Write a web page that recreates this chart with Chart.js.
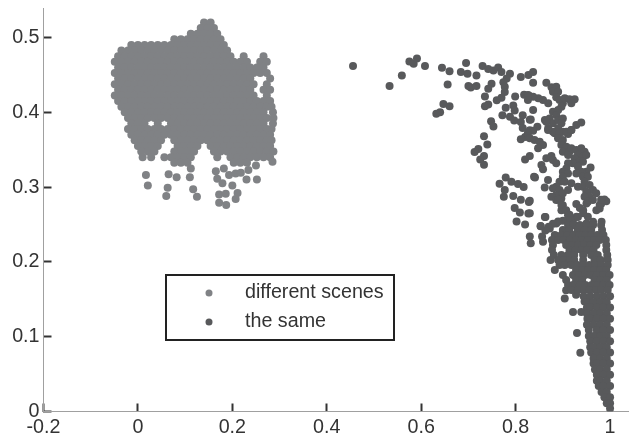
<!DOCTYPE html>
<html>
<head>
<meta charset="utf-8">
<script src="https://cdn.jsdelivr.net/npm/chart.js@4/dist/chart.umd.js"></script>
<style>html,body{margin:0;padding:0;background:#fff}canvas{display:block}</style>
</head>
<body>
<canvas id="c" width="632" height="436"></canvas>
<script>
const seriesNames = ['different scenes', 'the same'];
const xTicks = [-0.2, 0, 0.2, 0.4, 0.6, 0.8, 1];
const yTicks = [0, 0.1, 0.2, 0.3, 0.4, 0.5];

// "different scenes": rows of the solid cloud, y then x values
const diffRowY = [.52,.5125,.505,.4975,.49,.4825,.475,.4675,.46,.4525,.445,.4375,.43,.4225,.415,.4075,.40,.3925,.385,.3775,.37,.3625,.355,.3475,.34,.3325];
const diffRowX = [
[.14,.154],
[.133,.147,.161],
[.112,.126,.14,.154,.168],
[.077,.091,.105,.119,.133,.147,.161,.175],
[-.014,0,.014,.028,.042,.056,.07,.084,.098,.112,.126,.14,.154,.168,.182],
[-.035,-.021,-.007,.007,.021,.035,.049,.063,.077,.091,.105,.119,.133,.147,.161,.175,.189],
[-.042,-.028,-.014,0,.014,.028,.042,.056,.07,.084,.098,.112,.126,.14,.154,.168,.182,.196,.224,.266],
[-.049,-.035,-.021,-.007,.007,.021,.035,.049,.063,.077,.091,.105,.119,.133,.147,.161,.175,.189,.203,.217,.231,.259,.273],
[-.042,-.028,-.014,0,.014,.028,.042,.056,.07,.084,.098,.112,.126,.14,.154,.168,.182,.196,.21,.224,.238,.252,.266],
[-.049,-.035,-.021,-.007,.007,.021,.035,.049,.063,.077,.091,.105,.119,.133,.147,.161,.175,.189,.203,.217,.231,.245,.259,.273],
[-.042,-.028,-.014,0,.014,.028,.042,.056,.07,.084,.098,.112,.126,.14,.154,.168,.182,.196,.21,.224,.238,.28],
[-.049,-.035,-.021,-.007,.007,.021,.035,.049,.063,.077,.091,.105,.119,.133,.147,.161,.175,.189,.203,.217,.231,.245,.273],
[-.042,-.028,-.014,0,.014,.028,.042,.056,.07,.084,.098,.112,.126,.14,.154,.168,.182,.196,.21,.224,.238,.266,.28],
[-.049,-.035,-.021,-.007,.007,.021,.035,.049,.063,.077,.091,.105,.119,.133,.147,.161,.175,.189,.203,.217,.231,.245,.273],
[-.042,-.028,-.014,0,.014,.028,.042,.056,.07,.084,.098,.112,.126,.14,.154,.168,.182,.196,.21,.224,.238,.252,.266,.28],
[-.035,-.021,-.007,.007,.021,.035,.049,.063,.077,.091,.105,.119,.133,.147,.161,.175,.189,.203,.217,.231,.245,.259,.273,.283],
[-.028,-.014,0,.014,.028,.042,.056,.07,.084,.098,.112,.126,.14,.154,.168,.182,.196,.21,.224,.238,.252,.266,.286],
[-.021,-.007,.007,.021,.035,.049,.063,.077,.091,.105,.119,.133,.147,.161,.175,.189,.203,.217,.231,.245,.259,.273,.287],
[-.014,0,.014,.042,.07,.084,.098,.112,.126,.14,.154,.168,.182,.196,.21,.224,.238,.252,.266,.286],
[-.021,-.007,.007,.021,.035,.049,.063,.077,.091,.105,.119,.133,.147,.161,.175,.189,.203,.217,.231,.245,.259,.273,.283],
[-.014,0,.014,.028,.042,.056,.07,.084,.098,.112,.126,.14,.154,.168,.182,.196,.21,.224,.238,.252,.266,.28],
[-.007,.007,.021,.035,.049,.077,.091,.105,.119,.133,.147,.161,.175,.189,.203,.217,.231,.245,.259,.273,.283],
[0,.014,.028,.042,.084,.098,.112,.126,.154,.168,.182,.196,.21,.224,.238,.252,.266,.28],
[.007,.021,.035,.077,.091,.105,.119,.161,.175,.189,.203,.217,.231,.245,.259,.273,.287],
[.01,.028,.056,.07,.084,.098,.112,.168,.196,.21,.224,.238,.252,.266,.28],
[.077,.091,.105,.203,.217,.231]
];
// "different scenes": loose points under the cloud
const diffLoose = [[.017,.316],[.021,.302],[.063,.299],[.06,.288],[.065,.317],[.082,.313],[.11,.313],[.117,.297],[.125,.287],[.112,.325],[.165,.321],[.168,.311],[.179,.305],[.182,.325],[.193,.316],[.207,.318],[.218,.319],[.2,.302],[.211,.292],[.207,.284],[.172,.29],[.186,.291],[.172,.279],[.187,.276],[.23,.31],[.252,.31],[.285,.334],[.25,.329],[.234,.323]];

// "the same": scattered upper arc
const sameLoose = [[.4556,.4617],[.533,.435],[.559,.449],[.575,.468],[.584,.465],[.591,.472],[.608,.462],[.644,.4595],[.66,.455],[.695,.466],[.684,.454],[.698,.4515],[.717,.449],[.656,.437],[.7,.435],[.705,.433],[.717,.435],[.647,.411],[.66,.408],[.64,.4],[.632,.398],[.73,.462],[.742,.458],[.753,.456],[.763,.46],[.77,.4537],[.788,.4515],[.781,.445],[.774,.44],[.777,.434],[.777,.427],[.811,.447],[.827,.45],[.837,.454],[.837,.4395],[.865,.4395],[.749,.438],[.742,.4315],[.735,.421],[.77,.4195],[.76,.416],[.742,.4105],[.735,.408],[.799,.421],[.818,.4235],[.828,.4225],[.779,.406],[.795,.409],[.798,.4025],[.772,.396],[.788,.394],[.797,.389],[.815,.396],[.83,.39],[.748,.388],[.753,.381],[.811,.387],[.815,.379],[.83,.376],[.82,.367],[.811,.364],[.733,.368],[.74,.357],[.721,.351],[.713,.347],[.733,.3416],[.725,.337],[.733,.33],[.82,.337],[.841,.3127],[.779,.3127],[.766,.3046],[.791,.307],[.805,.304],[.817,.3],[.777,.296],[.775,.287],[.795,.288],[.811,.283],[.828,.28],[.798,.272],[.809,.266],[.827,.2646],[.802,.254],[.82,.25],[.863,.26],[.853,.2477]];
// "the same": upper ridge
const sameRidgeUpper = [[.876,.4333],[.886,.4342],[.879,.4275],[.89,.4275],[.886,.42],[.893,.4164],[.9,.412],[.904,.4186],[.914,.4173],[.925,.4173],[.918,.412],[.897,.4075],[.89,.403],[.879,.4008],[.886,.3963],[.869,.412],[.858,.4164],[.848,.4186],[.837,.4208],[.826,.423],[.826,.4164],[.837,.403],[.832,.3905],[.862,.3896],[.872,.3918],[.879,.3852],[.869,.3785],[.865,.3874],[.89,.3896],[.9,.3918],[.897,.3852],[.89,.3785],[.879,.374],[.9,.374],[.918,.3762],[.911,.371],[.9285,.383],[.939,.3865],[.846,.3807],[.837,.3753],[.826,.372]];
// "the same": middle ridge
const sameRidgeMiddle = [[.83,.3652],[.84,.363],[.851,.3607],[.858,.3562],[.8475,.3518],[.83,.3415],[.8686,.3763],[.8827,.372],[.893,.372],[.9074,.374],[.918,.3763],[.8898,.3652],[.9,.363],[.8968,.3562],[.9074,.354],[.9,.3473],[.9144,.3473],[.911,.3428],[.918,.3518],[.9285,.3495],[.939,.3518],[.946,.3473],[.932,.3428],[.9426,.3406],[.9496,.3428],[.925,.3384],[.9355,.334],[.9426,.334],[.9214,.3317],[.932,.3272],[.911,.3317],[.9074,.325],[.9,.3206],[.911,.3183],[.9,.3139],[.893,.3072],[.904,.3072],[.918,.305],[.886,.3005],[.879,.2983],[.8686,.3094],[.8616,.2996],[.839,.3139],[.8546,.3295],[.858,.3237],[.865,.3384],[.8757,.3415],[.879,.3362],[.886,.3317],[.9587,.3263],[.9496,.3206],[.939,.3206],[.9285,.3183],[.9426,.3139],[.953,.3139],[.946,.3072],[.932,.3005],[.9426,.3005],[.9566,.3027],[.9637,.296],[.9496,.2938],[.9707,.2916],[.9566,.2871],[.946,.2871],[.9637,.2827],[.953,.2804],[.988,.2835],[.981,.2773],[.893,.296],[.886,.2893],[.8757,.2871],[.886,.2827],[.8968,.2849],[.9,.2916],[.911,.296],[.9285,.2773],[.83,.2818]];
// "the same": lower ridge
const sameRidgeLower = [[.9,.2757],[.95,.2779],[.943,.269],[.929,.2602],[.911,.2624],[.897,.269],[.911,.2535],[.886,.2513],[.8723,.2446],[.925,.249],[.932,.2424],[.953,.2602],[.964,.2535],[.982,.2535],[.978,.2713],[.95,.2513],[.989,.2815],[.89,.283],[.897,.276],[.907,.269],[.914,.263],[.9215,.256],[.911,.255],[.9,.255],[.89,.254],[.879,.251],[.87,.247],[.863,.242],[.856,.234],[.858,.227],[.862,.26],[.853,.248],[.83,.265],[.83,.234],[.832,.225],[.936,.272],[.943,.265],[.932,.26],[.978,.276],[.971,.269],[.992,.281],[.981,.283],[.904,.151],[.907,.162],[.918,.167],[.928,.156],[.946,.147],[.9215,.133],[.939,.133],[.93,.105],[.937,.0786]];

// "the same": rows of the dense lower part, y then x values
const sameRowY = [.2494,.2427,.236,.2293,.2226,.2159,.2092,.2025,.1958,.1891,.1825,.1758,.1691,.1624,.154,.146,.139,.131,.124,.116,.109,.101,.094,.086,.079,.071,.064,.056,.049,.041,.034,.026,.019,.011,.004];
const sameRowX = [
[.911,.9215,.936,.95,.964,.981],
[.9,.914,.932,.946,.96,.983],
[.883,.897,.909,.922,.935,.948,.96,.973,.986],
[.877,.89,.902,.915,.928,.94,.953,.966,.978,.991],
[.879,.907,.92,.933,.945,.958,.971,.992],
[.877,.914,.927,.94,.952,.965,.992],
[.881,.897,.911,.924,.943,.96,.974,.994],
[.874,.89,.902,.915,.924,.943,.967,.98,.995],
[.893,.904,.918,.931,.943,.956,.969,.981,.995],
[.883,.928,.941,.954,.967,.979,.992],
[.9,.9215,.934,.947,.959,.972,.985,.999],
[.907,.928,.941,.967,.98,.993],
[.911,.9215,.936,.948,.961,.974,.986,.999],
[.918,.932,.945,.957,.97,.981,.995],
[.944,.958,.972,.986,1],
[.951,.965,.979,.993],
[.951,.958,.972,.986,1],
[.951,.965,.979,.993],
[.952,.958,.972,.986,1],
[.951,.965,.979,.993],
[.955,.972,.986,1],
[.955,.965,.979,.993],
[.958,.972,.986,1],
[.958,.965,.979,.993],
[.96,.972,.986,1],
[.965,.979,.993],
[.965,.972,.986,1],
[.968,.979,.993],
[.972,.986,1],
[.972,.979,.993],
[.976,.986,1],
[.982,.993],
[.988,1],
[.993,1],
[1]
];

const pointsFromRows = (ys, xs) => ys.flatMap((y, i) => xs[i].map(x => ({x, y})));
const pointsFromPairs = ps => ps.map(([x, y]) => ({x, y}));
const diffData = pointsFromRows(diffRowY, diffRowX).concat(pointsFromPairs(diffLoose));
const sameData = pointsFromPairs(sameLoose.concat(sameRidgeUpper, sameRidgeMiddle, sameRidgeLower)).concat(pointsFromRows(sameRowY, sameRowX));

const colDiff = '#808285', colSame = '#58595b', ink = '#333333', axisCol = '#a0a0a0';
const font = {family: '"Liberation Sans", Arial, sans-serif', size: 19.7};

const boxedLegend = {
  id: 'boxedLegend',
  afterDatasetsDraw(chart) {
    const c = chart.ctx;
    c.save();
    c.strokeStyle = '#222222'; c.lineWidth = 2;
    c.strokeRect(166, 275, 228, 65);
    c.font = font.size + 'px ' + font.family; c.textBaseline = 'middle'; c.textAlign = 'left';
    chart.data.datasets.forEach((d, i) => {
      const y = 293 + i * 29;
      c.beginPath(); c.arc(209, y, 3.5, 0, Math.PI * 2); c.fillStyle = d.backgroundColor; c.fill();
      c.fillStyle = ink; c.fillText(d.label, 245, y);
    });
    c.restore();
  }
};
const fix = (w, h) => s => {
  if (w) s.width = w;
  if (h) s.height = h;
  s.paddingTop = s.paddingBottom = s.paddingLeft = s.paddingRight = 0;
};
const axis = (ticks, step, min, max, padding, extra) => Object.assign({
  type: 'linear', min, max,
  afterBuildTicks: s => { s.ticks = ticks.map(value => ({value})); },
  border: {display: true, color: axisCol, width: 1},
  grid: {drawOnChartArea: false, drawTicks: true, tickLength: -8, tickColor: ink, tickWidth: 2},
  ticks: {color: ink, font, padding, autoSkip: false, maxRotation: 0, minRotation: 0, stepSize: step, callback: v => String(+v.toFixed(1))}
}, extra);

new Chart(document.getElementById('c'), {
  type: 'scatter',
  data: {datasets: [
    {label: seriesNames[0], data: diffData, backgroundColor: colDiff, borderWidth: 0, pointRadius: 4, pointHoverRadius: 4},
    {label: seriesNames[1], data: sameData, backgroundColor: colSame, borderWidth: 0, pointRadius: 4, pointHoverRadius: 4}
  ]},
  options: {
    responsive: false, animation: false, events: [],
    layout: {padding: {top: 8, right: 2, left: 0, bottom: 0}},
    plugins: {legend: {display: false}, tooltip: {enabled: false}},
    scales: {
      x: axis(xTicks, 0.2, -0.2, 1.038, 12.5, {afterFit: fix(0, 24.5)}),
      y: axis(yTicks, 0.1, 0, 0.5394, 12, {afterFit: fix(43.5, 0)})
    }
  },
  plugins: [boxedLegend]
});
</script>
</body>
</html>
